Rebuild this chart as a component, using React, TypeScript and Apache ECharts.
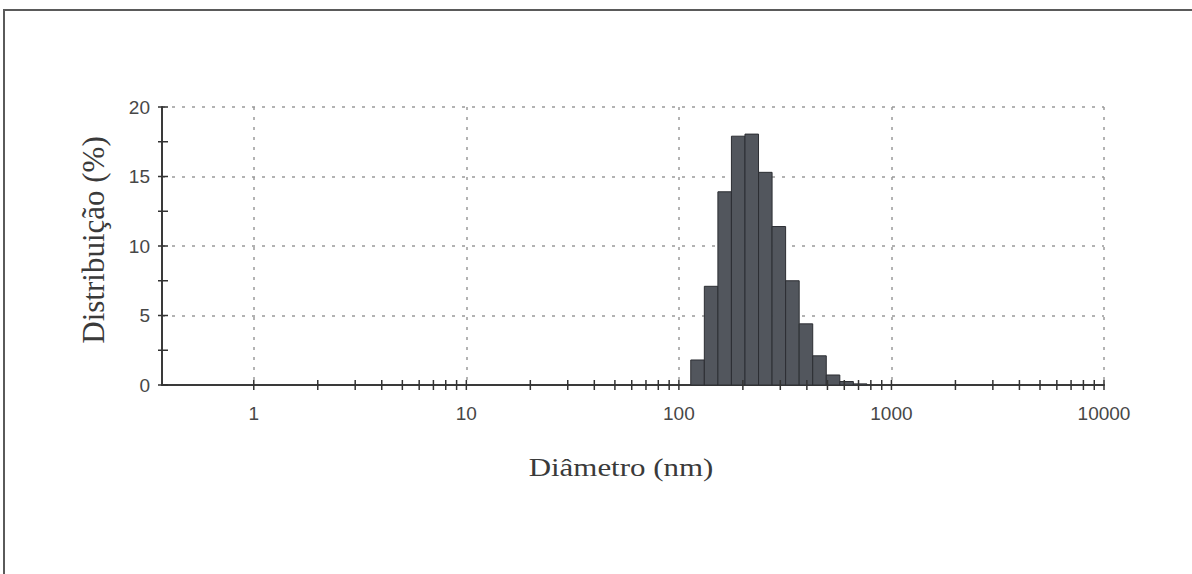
import React, { useEffect, useRef } from "react";
import * as echarts from "echarts";

// Size classes (nm) of the histogram bars and their intensity (%)
const sizeClasses = [122.4, 141.8, 164.2, 190.1, 220.2, 255.0, 295.3, 342.0, 396.1, 458.7, 531.2, 615.1, 712.4];
const distribution = [1.8, 7.1, 13.9, 17.9, 18.05, 15.3, 11.4, 7.5, 4.4, 2.1, 0.72, 0.25, 0.08];

// Axis definition
const xMin = 0.37;
const xMax = 10000;
const xMajorTicks = [1, 10, 100, 1000, 10000];
const xMinorMultipliers = [2, 3, 4, 5, 6, 7, 8, 9];
const yTicks = [0, 2.5, 5, 7.5, 10, 12.5, 15, 17.5, 20];

const xTitle = "Diâmetro (nm)";
const yTitle = "Distribuição (%)";

export default function App() {
  const ref = useRef<HTMLDivElement>(null);

  useEffect(() => {
    if (!ref.current) return;
    const chart = echarts.init(ref.current, undefined, { renderer: "svg" });

    const ratio = Math.sqrt(sizeClasses[1] / sizeClasses[0]);
    const barData = sizeClasses.map((s, i) => {
      const lo = i > 0 ? Math.sqrt(sizeClasses[i - 1] * s) : s / ratio;
      const hi = i < sizeClasses.length - 1 ? Math.sqrt(sizeClasses[i + 1] * s) : s * ratio;
      return [s, distribution[i], lo, hi];
    });

    const xTickValues: number[] = [];
    xMajorTicks.forEach((d, k) => {
      xTickValues.push(d);
      if (k < xMajorTicks.length - 1) xMinorMultipliers.forEach((m) => xTickValues.push(d * m));
    });

    const axisText = { color: "#474747", fontSize: 19, fontFamily: "'Liberation Sans', Arial, sans-serif" };

    chart.setOption({
      animation: false,
      backgroundColor: "#ffffff",
      grid: { left: 162, right: 88, top: 107, bottom: 189, containLabel: false, outerBoundsMode: "none" },
      xAxis: {
        type: "log",
        logBase: 10,
        min: xMin,
        max: xMax,
        axisLine: { show: true, lineStyle: { color: "#3a3a3a", width: 2 } },
        axisTick: { show: false },
        minorTick: { show: false },
        axisLabel: {
          ...axisText,
          margin: 19,
          showMinLabel: false,
          formatter: (v: number) => {
            const l = Math.log10(v);
            return Math.abs(l - Math.round(l)) < 1e-6 ? String(Math.round(v)) : "";
          },
        },
        splitLine: { show: true, lineStyle: { color: "#9a9a9a", width: 1.5, type: [3, 7] } },
      },
      yAxis: {
        type: "value",
        min: 0,
        max: 20,
        interval: 5,
        axisLine: { show: true, lineStyle: { color: "#3a3a3a", width: 2 } },
        axisTick: { show: false },
        axisLabel: { ...axisText, margin: 12 },
        splitLine: { show: true, lineStyle: { color: "#9a9a9a", width: 1.5, type: [3, 7] } },
      },
      series: [
        {
          type: "custom",
          clip: false,
          data: barData,
          encode: { x: 0, y: 1 },
          renderItem: (params: any, api: any) => {
            const p0 = api.coord([api.value(2), api.value(1)]);
            const p1 = api.coord([api.value(3), 0]);
            return {
              type: "rect",
              shape: { x: p0[0], y: p0[1], width: p1[0] - p0[0], height: p1[1] - p0[1] },
              style: { fill: "#52565d", stroke: "#2c2e33", lineWidth: 1 },
            };
          },
          z: 3,
        },
        {
          type: "custom",
          clip: false,
          silent: true,
          data: xTickValues.map((v) => [v, 0]),
          encode: { x: 0, y: 1 },
          renderItem: (params: any, api: any) => {
            const p = api.coord([api.value(0), 0]);
            return {
              type: "line",
              shape: { x1: p[0], y1: p[1] - 5, x2: p[0], y2: p[1] + 5 },
              style: { stroke: "#333", lineWidth: 1.5 },
            };
          },
          z: 4,
        },
        {
          type: "custom",
          clip: false,
          silent: true,
          data: yTicks.map((v) => [xMin, v]),
          encode: { x: 0, y: 1 },
          renderItem: (params: any, api: any) => {
            const p = api.coord([xMin, api.value(1)]);
            return {
              type: "line",
              shape: { x1: p[0] - 4, y1: p[1], x2: p[0] + 6, y2: p[1] },
              style: { stroke: "#333", lineWidth: 1.5 },
            };
          },
          z: 4,
        },
      ],
      graphic: [
        {
          type: "rect",
          shape: { x: 4, y: 10, width: 1220, height: 620 },
          style: { fill: "none", stroke: "#5a5a5a", lineWidth: 2 },
          silent: true,
        },
        {
          type: "text",
          x: 621,
          y: 467,
          scaleX: 1.19,
          style: {
            text: xTitle,
            font: "26px 'Liberation Serif', 'Times New Roman', serif",
            fill: "#3a3a3a",
            align: "center",
            verticalAlign: "middle",
          },
        },
        {
          type: "text",
          x: 93,
          y: 240,
          rotation: Math.PI / 2,
          style: {
            text: yTitle,
            font: "31px 'Liberation Serif', 'Times New Roman', serif",
            fill: "#3a3a3a",
            align: "center",
            verticalAlign: "middle",
          },
        },
      ],
    });

    return () => chart.dispose();
  }, []);

  return (
    <div
      ref={ref}
      style={{ position: "fixed", left: 0, top: 0, width: 1192, height: 574, background: "#fff" }}
    />
  );
}
